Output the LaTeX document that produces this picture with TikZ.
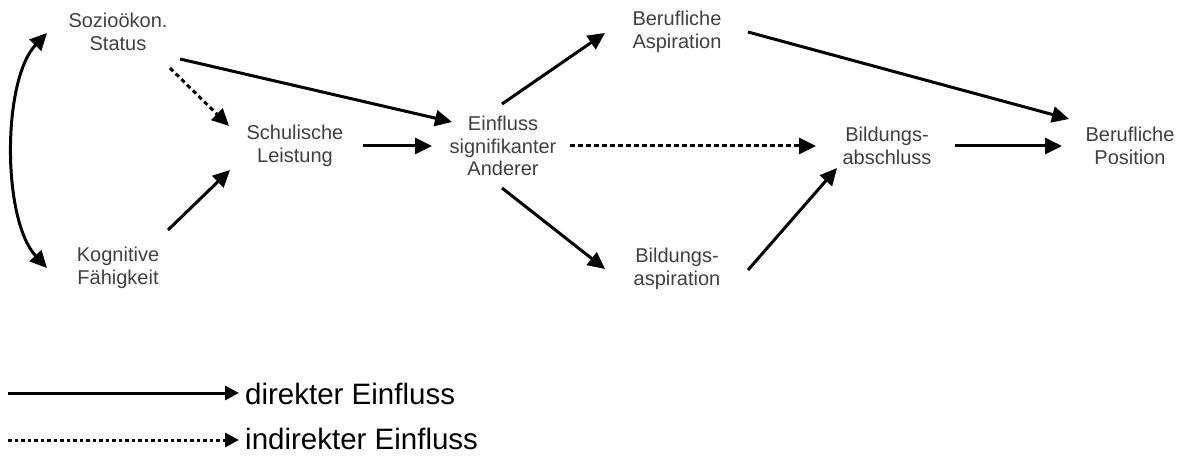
\documentclass[tikz,border=0pt]{standalone}
\usepackage{fontspec}
\setmainfont{Liberation Sans}
\usetikzlibrary{arrows.meta}
\begin{document}
\begin{tikzpicture}[x=1pt,y=-1pt,
  lbl/.style={align=center,text=black!75,font=\fontsize{20}{22.5}\selectfont,inner sep=0pt},
  legtext/.style={anchor=west,text=black,font=\fontsize{29.5}{32}\selectfont,inner sep=0pt},
  conn/.style={line width=3pt,-{Triangle[length=17pt,width=16pt]}},
  dconn/.style={conn,dash pattern=on 4.5pt off 3.5pt},
  legconn/.style={line width=3pt,-{Triangle[length=14pt,width=14pt]}},
  dlegconn/.style={legconn,dash pattern=on 3.5pt off 3pt}]
\useasboundingbox (0,0) rectangle (1178,457);
\fill[white] (0,0) rectangle (1178,457);

\node[lbl] (soz) at (118,32) {Sozioökon.\\Status};
\node[lbl] (kog) at (118,268) {Kognitive\\Fähigkeit};
\node[lbl] (sch) at (295,146) {Schulische\\Leistung};
\node[lbl] (ein) at (503,146) {Einfluss\\signifikanter\\Anderer};
\node[lbl] (basp) at (677,32) {Berufliche\\Aspiration};
\node[lbl] (bild) at (677,269) {Bildungs-\\aspiration};
\node[lbl] (abs) at (887,146) {Bildungs-\\abschluss};
\node[lbl] (pos) at (1130,146) {Berufliche\\Position};

% coordinates for connector ends
\coordinate (sozA) at (47,33);
\coordinate (kogA) at (47,268);
\coordinate (sozB) at (180,59);
\coordinate (einA) at (452,122);
\coordinate (sozC) at (170,68);
\coordinate (schA) at (229,126);
\coordinate (kogB) at (168,230);
\coordinate (schB) at (230,170);
\coordinate (schC) at (363,146);
\coordinate (einB) at (432,146);
\coordinate (einC) at (502,104);
\coordinate (baspA) at (605,33);
\coordinate (einD) at (502,188);
\coordinate (bildA) at (605,269);
\coordinate (einE) at (570,146);
\coordinate (absA) at (816,146);
\coordinate (bildB) at (748,270);
\coordinate (absB) at (837,168);
\coordinate (baspB) at (748,32);
\coordinate (posA) at (1069,119);
\coordinate (absC) at (955,146);
\coordinate (posB) at (1062,146);

\draw[conn,{Triangle[length=17pt,width=16pt]}-{Triangle[length=17pt,width=16pt]}]
  (sozA) .. controls (2,80) and (2,220) .. (kogA);
\draw[conn] (sozB) -- (einA);
\draw[dconn] (sozC) -- (schA);
\draw[conn] (kogB) -- (schB);
\draw[conn] (schC) -- (einB);
\draw[conn] (einC) -- (baspA);
\draw[conn] (einD) -- (bildA);
\draw[dconn] (einE) -- (absA);
\draw[conn] (bildB) -- (absB);
\draw[conn] (baspB) -- (posA);
\draw[conn] (absC) -- (posB);

% legend
\node[legtext] (ld) at (245,394) {direkter Einfluss};
\node[legtext] (li) at (245,439) {indirekter Einfluss};
\coordinate (ldA) at (8,393);
\coordinate (liA) at (8,440);
\draw[legconn] (ldA) -- ([xshift=-6pt]ld.west |- ldA);
\draw[dlegconn] (liA) -- ([xshift=-6pt]li.west |- liA);
\end{tikzpicture}
\end{document}
